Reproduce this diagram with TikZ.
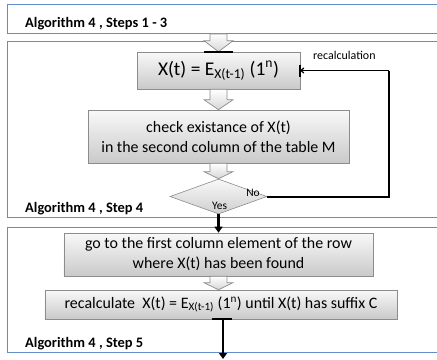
\documentclass[tikz,border=0pt]{standalone}
\usepackage{fontspec}
\setmainfont{Carlito}
\usetikzlibrary{shapes.geometric,shadows,arrows.meta,calc}
\definecolor{panelblue}{RGB}{100,140,198}
\definecolor{boxedge}{RGB}{140,140,140}
\newcommand\blkarr[3]{%
  \path[blockarrow] let \p1=(#1), \p2=(#2) in
    (\x1-8.5pt,\y1) -- (\x1+8.5pt,\y1) -- (\x1+8.5pt,\y2+#3) -- (\x1+14.5pt,\y2+#3)
    -- (\x1,\y2) -- (\x1-14.5pt,\y2+#3) -- (\x1-8.5pt,\y2+#3) -- cycle;}
\begin{document}
\begin{tikzpicture}[x=1bp,y=-1bp,
  panel/.style={draw=panelblue, line width=0.9bp, minimum width=440bp, inner sep=0, anchor=north west},
  stepbox/.style={draw=boxedge, line width=0.6bp, top color=gray!5, bottom color=gray!42,
    drop shadow={opacity=0.35, shadow xshift=1.2bp, shadow yshift=-1.2bp},
    inner sep=0, align=center, font=\fontsize{16}{20}\selectfont},
  blockarrow/.style={draw=boxedge, line width=0.7bp, top color=white, bottom color=gray!32},
  marker/.style={line width=2bp, black},
  lbl/.style={font=\bfseries\fontsize{14.5}{16}\selectfont, anchor=west, inner sep=0},
  small/.style={font=\fontsize{11.5}{13}\selectfont, inner sep=0},
  thickline/.style={line width=2bp, black},
  downarrow/.style={line width=2.5bp, black, -{Triangle[length=6bp,width=8bp]}}
]
\useasboundingbox (0,0) rectangle (437,359);
\clip (0,0) rectangle (437,359);

% panels
\node[panel, minimum height=29bp] (p1) at (7,4) {};
\node[panel, minimum height=176bp] (p2) at (7,41) {};
\node[panel, minimum height=125bp] (p3) at (7,227) {};

\node[lbl] (l1) at (25,24) {Algorithm 4 , Steps 1 - 3};
\node[lbl] (l2) at (25,209) {Algorithm 4 , Step 4};
\node[lbl] (l3) at (25,344) {Algorithm 4 , Step 5};

% boxes
\node[stepbox, minimum width=163bp, minimum height=37bp, font=\fontsize{19.5}{22}\selectfont] (b1) at (218.5,70.5)
  {X(t) = E\textsubscript{X(t-1)} (1\textsuperscript{n})};
\node[stepbox, minimum width=261bp, minimum height=53bp] (b2) at (218.5,136.5)
  {check existance of X(t)\\in the second column of the table M};
\node[draw=boxedge, line width=0.6bp, top color=gray!5, bottom color=gray!38, diamond,
  minimum width=97bp, minimum height=35bp, inner sep=0] (dm) at (218.5,196.5) {};
\node[stepbox, minimum width=309bp, minimum height=43bp] (b3) at (218.5,254.5)
  {go to the first column element of the row\\where X(t) has been found};
\node[stepbox, minimum width=352bp, minimum height=29bp] (b4) at (221,304.5)
  {recalculate\ \ X(t) = E\textsubscript{X(t-1)} (1\textsuperscript{n}) until X(t) has suffix C};

\node[small] (yes) at (219.5,206) {Yes};
\node[small] (no) at (253,193) {No};
\node[small, font=\fontsize{12}{14}\selectfont, anchor=west] (rc) at (313,55) {recalculation};

% block arrows
\blkarr{p1.south -| b1.north}{b1.north}{11pt}
\blkarr{b1.south}{b2.north}{10pt}
\blkarr{b2.south}{dm.north}{7pt}
\blkarr{b3.south}{b4.north}{7pt}

% markers
\draw[marker] ($(b1.north)+(-14.5,0)$) -- ($(b1.north)+(14.5,0)$);
\draw[marker] ($(b1.east)+(0,-6)$) -- ($(b1.east)+(0,6)$);
\draw[marker] ($(b4.south)+(-9,0)$) -- ($(b4.south)+(11,0)$);

% feedback loop
\coordinate (c1) at (389,196.5);
\coordinate (c2) at (389,70.5);
\draw[thickline] (dm.east) -- (c1) -- (c2);
\draw[line width=1.2bp, -{To[length=4bp,width=6bp]}] (c2) -- (b1.east);

% downward connectors
\draw[downarrow] (dm.south) -- (b3.north);
\coordinate (endpt) at (223,359);
\draw[downarrow] (b4.south -| endpt) -- (endpt);
\end{tikzpicture}
\end{document}
